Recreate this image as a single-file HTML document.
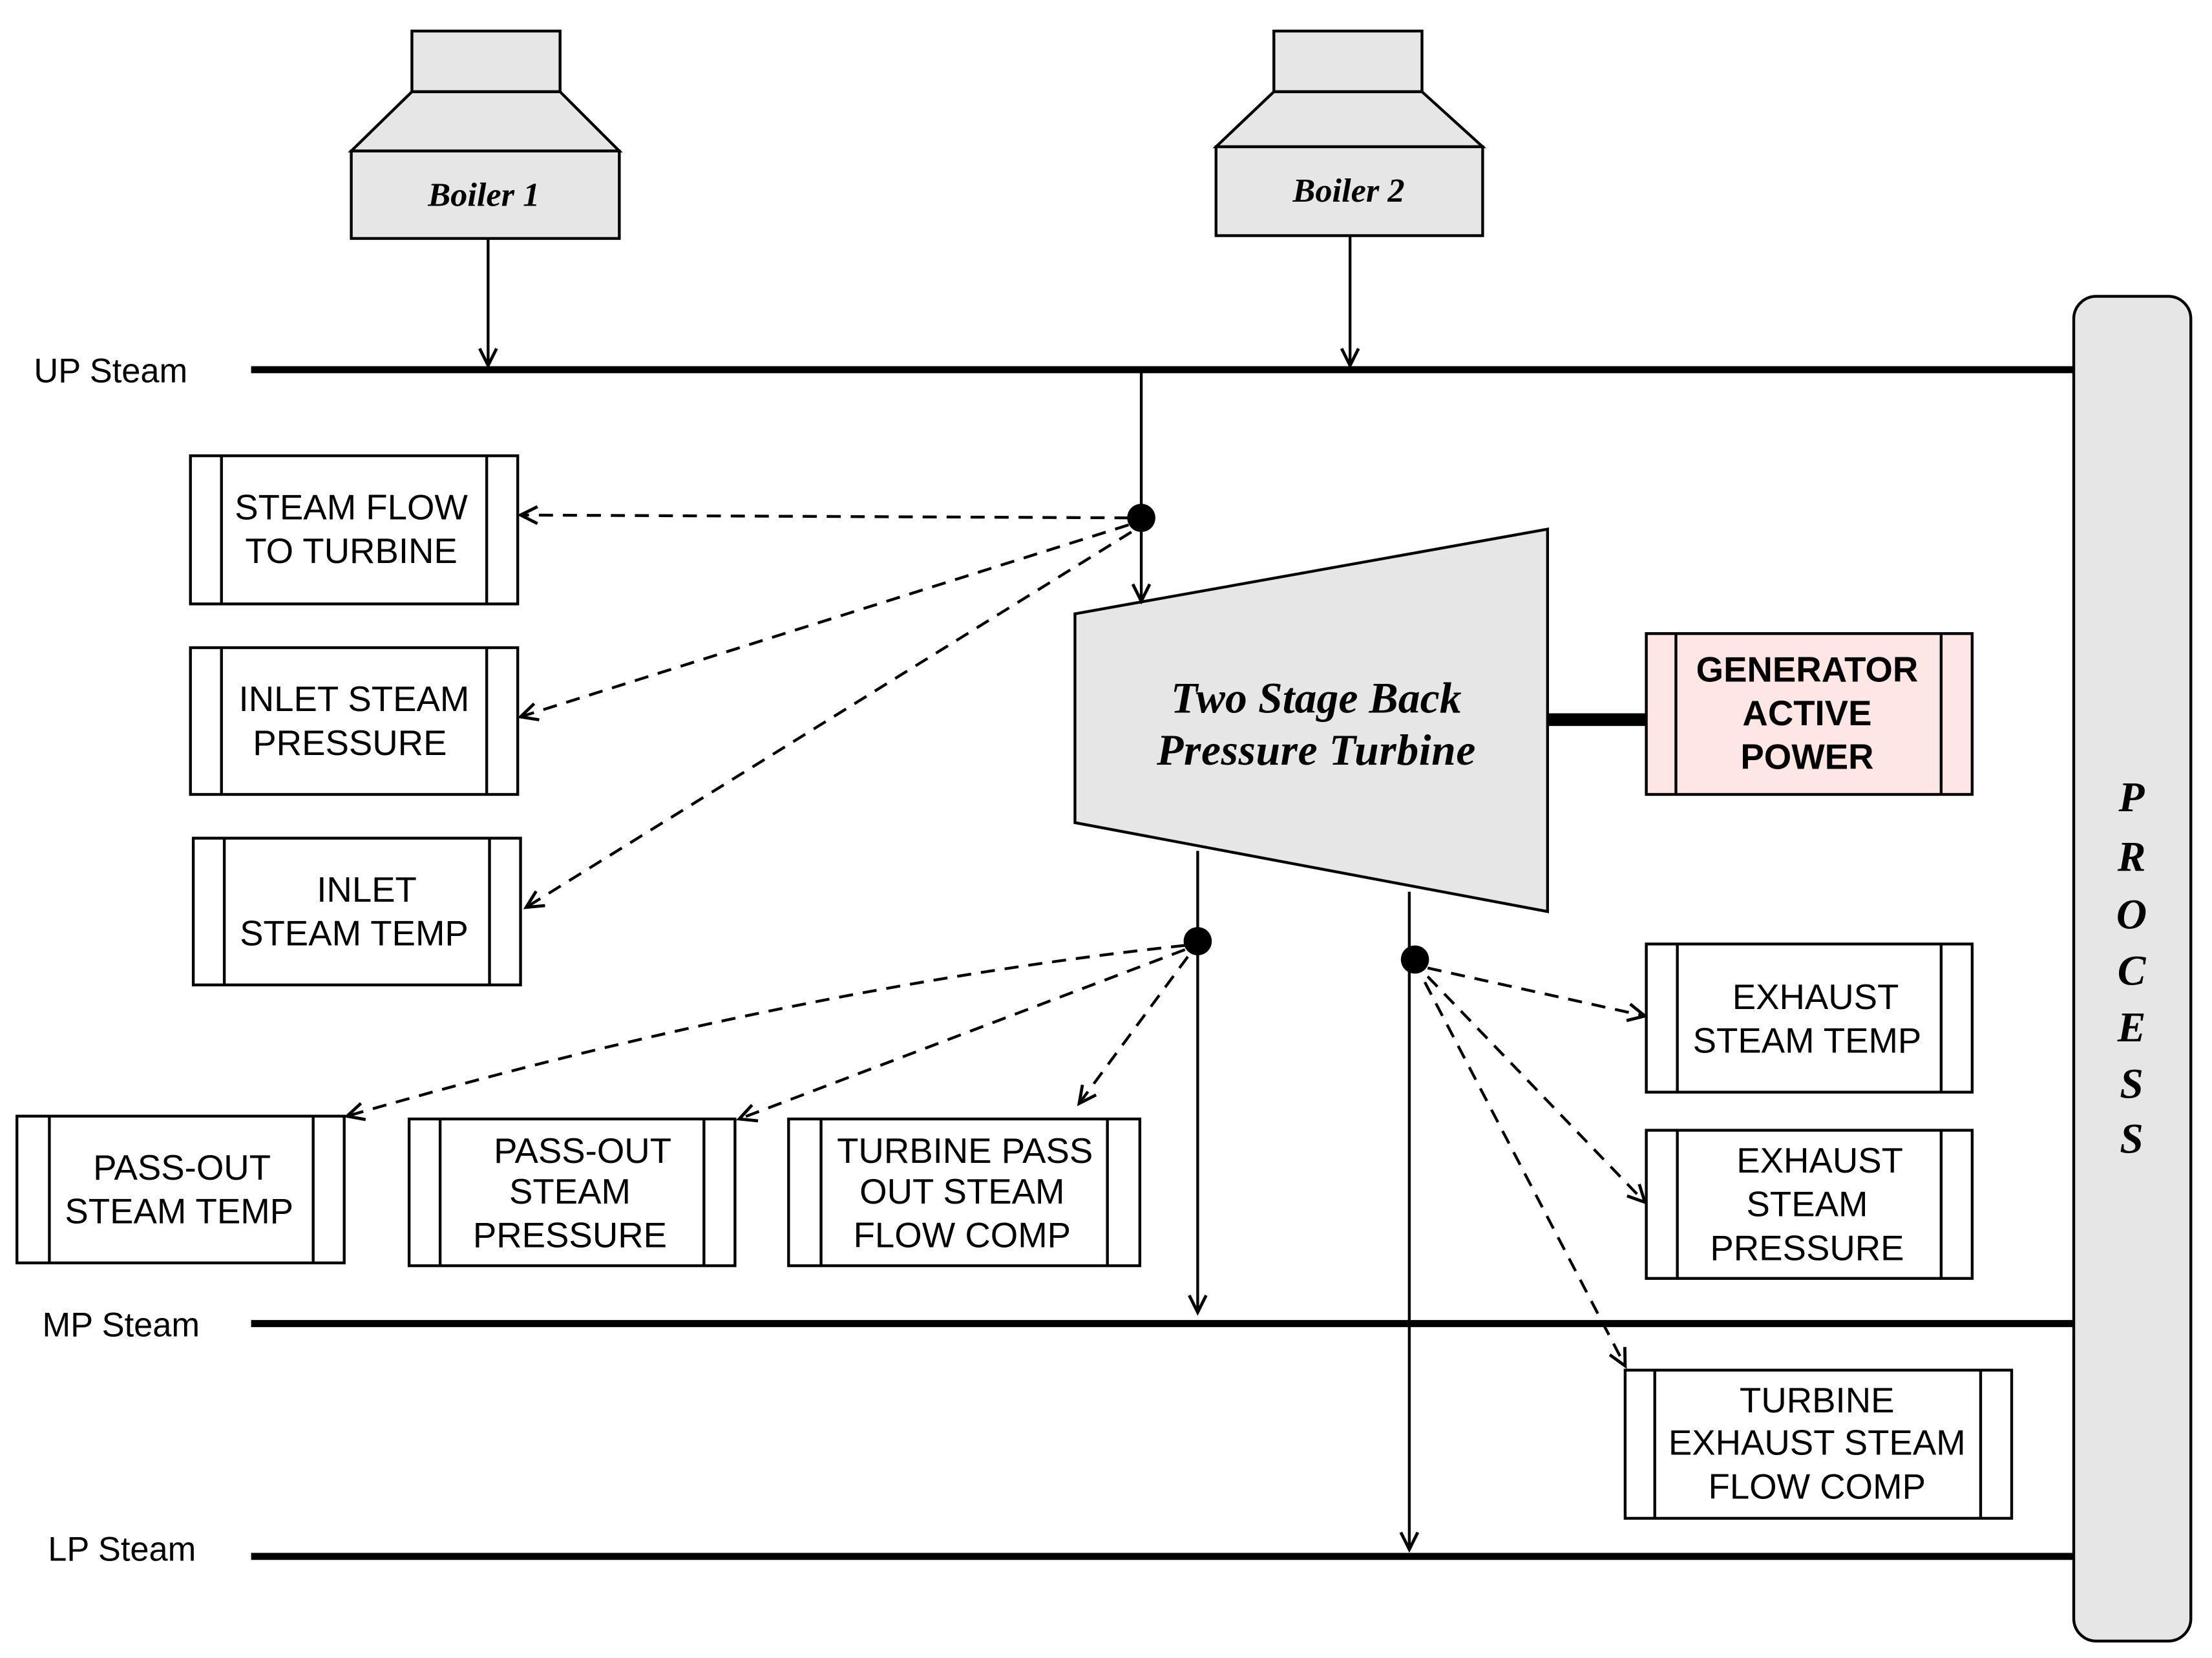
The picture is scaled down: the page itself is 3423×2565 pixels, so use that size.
<!DOCTYPE html>
<html><head><meta charset="utf-8"><style>html,body{margin:0;padding:0;background:#fff}svg{display:block}</style></head>
<body>
<svg width="3423" height="2565" viewBox="0 0 1568 1175" preserveAspectRatio="none" xmlns="http://www.w3.org/2000/svg">
<defs>
<marker id="a" markerWidth="16" markerHeight="16" refX="13" refY="8" orient="auto" markerUnits="userSpaceOnUse">
<path d="M1,2 L13,8 L1,14" fill="none" stroke="#000" stroke-width="2.2"/>
</marker>
</defs>
<g stroke="#000" stroke-width="2" fill="#e6e6e6">
<rect x="292" y="22" width="105" height="43"/>
<polygon points="292,65 397,65 439,107 249,107"/>
<rect x="249" y="107" width="190" height="62"/>
<rect x="903" y="22" width="105" height="43"/>
<polygon points="903,65 1008,65 1051,104 862,104"/>
<rect x="862" y="104" width="189" height="63"/>
<rect x="1470" y="210" width="83" height="953" rx="16"/>
<polygon points="762,435 1097,375 1097,646 762,583"/>
</g>
<g font-family="Liberation Serif, serif" font-style="italic" font-weight="bold" text-anchor="middle">
<text x="343" y="146" font-size="24">Boiler 1</text>
<text x="956" y="143" font-size="24">Boiler 2</text>
<text x="933" y="505" font-size="31" textLength="206">Two Stage Back</text>
<text x="933" y="542" font-size="31" textLength="226">Pressure Turbine</text>
<g font-size="30"><text x="1511" y="575">P</text><text x="1511" y="617">R</text><text x="1511" y="658">O</text><text x="1511" y="698">C</text><text x="1511" y="738">E</text><text x="1511" y="778">S</text><text x="1511" y="817">S</text></g>
</g>
<g stroke="#000" stroke-width="5">
<line x1="178" y1="262" x2="1470" y2="262"/>
<line x1="178" y1="938" x2="1470" y2="938"/>
<line x1="178" y1="1103" x2="1470" y2="1103"/>
<line x1="1097" y1="510" x2="1167" y2="510" stroke-width="9"/>
</g>
<g font-family="Liberation Sans, sans-serif" font-size="24">
<text x="24" y="271">UP Steam</text>
<text x="30" y="947">MP Steam</text>
<text x="34" y="1106">LP Steam</text>
</g>
<g stroke="#000" stroke-width="2" fill="none" marker-end="url(#a)">
<line x1="346" y1="169" x2="346" y2="259"/>
<line x1="957" y1="167" x2="957" y2="259"/>
<line x1="809" y1="262" x2="809" y2="426"/>
<line x1="849" y1="603" x2="849" y2="930"/>
<line x1="999" y1="632" x2="999" y2="1098"/>
</g>
<g stroke="#000" stroke-width="2" fill="none" stroke-dasharray="10,7" marker-end="url(#a)">
<line x1="800" y1="367" x2="369" y2="365"/>
<line x1="800" y1="372" x2="369" y2="508"/>
<line x1="802" y1="377" x2="373" y2="643"/>
<path d="M840,670 Q560,700 246,791"/>
<line x1="840" y1="673" x2="524" y2="793"/>
<line x1="842" y1="678" x2="765" y2="782"/>
<line x1="1012" y1="686" x2="1166" y2="720"/>
<line x1="1012" y1="692" x2="1166" y2="852"/>
<line x1="1010" y1="696" x2="1152" y2="968"/>
</g>
<g fill="#000"><circle cx="809" cy="367" r="10"/><circle cx="849" cy="667" r="10"/><circle cx="1003" cy="680" r="10"/></g>
<g stroke="#000" stroke-width="2" fill="#fff">
<rect x="135" y="323" width="232" height="105"/><line x1="157" y1="323" x2="157" y2="428"/><line x1="345" y1="323" x2="345" y2="428"/>
<rect x="135" y="459" width="232" height="104"/><line x1="157" y1="459" x2="157" y2="563"/><line x1="345" y1="459" x2="345" y2="563"/>
<rect x="137" y="594" width="232" height="104"/><line x1="159" y1="594" x2="159" y2="698"/><line x1="347" y1="594" x2="347" y2="698"/>
<rect x="1167" y="449" width="231" height="114" fill="#fde6e4"/><line x1="1188" y1="449" x2="1188" y2="563"/><line x1="1376" y1="449" x2="1376" y2="563"/>
<rect x="12" y="791" width="232" height="104"/><line x1="35" y1="791" x2="35" y2="895"/><line x1="222" y1="791" x2="222" y2="895"/>
<rect x="290" y="793" width="231" height="104"/><line x1="312" y1="793" x2="312" y2="897"/><line x1="499" y1="793" x2="499" y2="897"/>
<rect x="559" y="793" width="249" height="104"/><line x1="582" y1="793" x2="582" y2="897"/><line x1="785" y1="793" x2="785" y2="897"/>
<rect x="1167" y="669" width="231" height="105"/><line x1="1189" y1="669" x2="1189" y2="774"/><line x1="1376" y1="669" x2="1376" y2="774"/>
<rect x="1167" y="801" width="231" height="105"/><line x1="1189" y1="801" x2="1189" y2="906"/><line x1="1376" y1="801" x2="1376" y2="906"/>
<rect x="1152" y="971" width="274" height="105"/><line x1="1173" y1="971" x2="1173" y2="1076"/><line x1="1404" y1="971" x2="1404" y2="1076"/>
</g>
<g font-family="Liberation Sans, sans-serif" font-size="25" text-anchor="middle">
<text x="249" y="368">STEAM FLOW</text><text x="249" y="399">TO TURBINE</text>
<text x="251" y="504">INLET STEAM</text><text x="248" y="535">PRESSURE</text>
<text x="260" y="639">INLET</text><text x="251" y="670">STEAM TEMP</text>
<g font-weight="bold"><text x="1281" y="483">GENERATOR</text><text x="1281" y="514">ACTIVE</text><text x="1281" y="545">POWER</text></g>
<text x="129" y="836">PASS-OUT</text><text x="127" y="867">STEAM TEMP</text>
<text x="413" y="824">PASS-OUT</text><text x="404" y="853">STEAM</text><text x="404" y="884">PRESSURE</text>
<text x="684" y="824">TURBINE PASS</text><text x="682" y="853">OUT STEAM</text><text x="682" y="884">FLOW COMP</text>
<text x="1287" y="715">EXHAUST</text><text x="1281" y="746">STEAM TEMP</text>
<text x="1290" y="831">EXHAUST</text><text x="1281" y="862">STEAM</text><text x="1281" y="893">PRESSURE</text>
<text x="1288" y="1001">TURBINE</text><text x="1288" y="1031">EXHAUST STEAM</text><text x="1288" y="1062">FLOW COMP</text>
</g>
</svg>
</body></html>
